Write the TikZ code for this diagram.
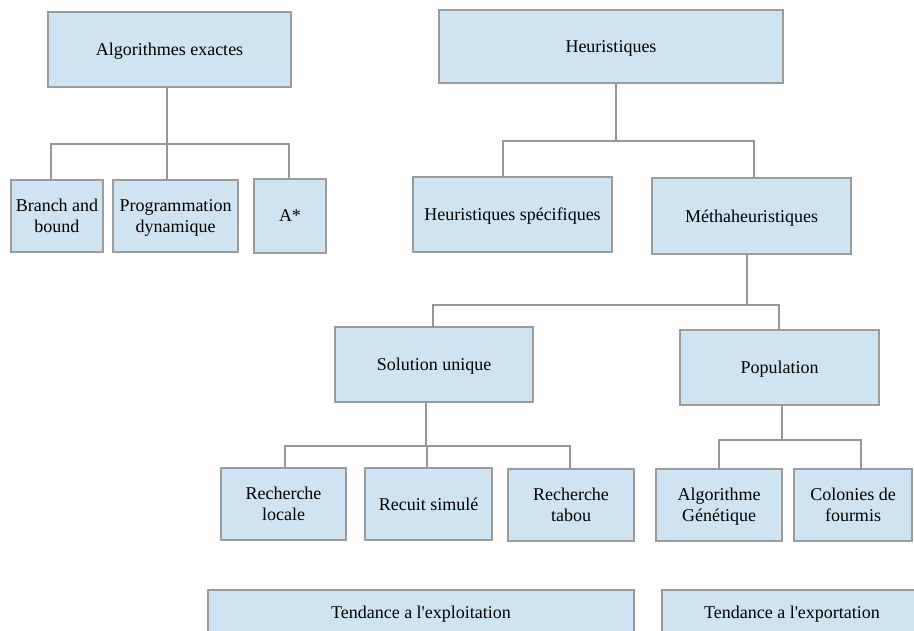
\documentclass[tikz,border=0pt]{standalone}
\usepackage{fontspec}
\setmainfont{Liberation Serif}
\newfontfamily\nomapserif{Liberation Serif}
\definecolor{boxfill}{RGB}{207,228,242}
\definecolor{boxline}{RGB}{155,155,155}
\definecolor{connline}{RGB}{150,150,150}
\begin{document}
\begin{tikzpicture}[x=1pt,y=-1pt,
  box/.style={draw=boxline, fill=boxfill, line width=1.4pt, inner sep=0pt,
    align=center, font=\fontsize{18}{21}\selectfont, text=black, text depth=0pt},
  conn/.style={draw=connline, line width=1.4pt}]
\useasboundingbox (0,0) rectangle (914,630);
\clip (0,0) rectangle (914,630);
% boxes
\node[box, minimum width=243pt, minimum height=75pt] (alg) at (169.5,49.5) {Algorithmes exactes};
\node[box, minimum width=344pt, minimum height=73pt] (heur) at (611,46.5) {Heuristiques};
\node[box, minimum width=92pt, minimum height=72pt] (bb) at (57,216) {Branch and\\bound};
\node[box, minimum width=125pt, minimum height=72pt] (prog) at (175.5,216) {Programmation\\dynamique};
\node[box, minimum width=72pt, minimum height=74pt] (astar) at (290,216) {A*};
\node[box, minimum width=199pt, minimum height=75pt] (hs) at (512.5,214.5) {Heuristiques spécifiques};
\node[box, minimum width=199pt, minimum height=76pt] (meth) at (751.5,216) {Méthaheuristiques};
\node[box, minimum width=198pt, minimum height=75pt] (su) at (434,364.5) {Solution unique};
\node[box, minimum width=199pt, minimum height=75pt] (pop) at (779.5,367.5) {Population};
\node[box, minimum width=125pt, minimum height=72pt] (rl) at (283.5,504) {Recherche\\locale};
\node[box, minimum width=127pt, minimum height=72pt] (rs) at (428.5,504) {Recuit simulé};
\node[box, minimum width=126pt, minimum height=72pt] (rt) at (571,505) {Recherche\\tabou};
\node[box, minimum width=126pt, minimum height=72pt] (ag) at (719,505) {Algorithme\\Génétique};
\node[box, minimum width=118pt, minimum height=72pt] (cf) at (853,505) {Colonies de\\fourmis};
\node[box, minimum width=426pt, minimum height=44pt] (te1) at (421,612) {{\nomapserif Tendance a l'exploitation}};
\node[box, minimum width=260pt, minimum height=44pt] (te2) at (792,612) {{\nomapserif Tendance a l'exportation}};
% junctions
\coordinate (j1) at (167,144);
\coordinate (j2) at (616,141);
\coordinate (j3) at (747,305);
\coordinate (j4) at (426,446);
\coordinate (j5) at (782,440);
% connectors
\draw[conn] ([xshift=-2.5pt]alg.south) -- (j1);
\draw[conn] (j1) -| ([xshift=-6pt]bb.north);
\draw[conn] (j1) -| ([xshift=-8.5pt]prog.north);
\draw[conn] (j1) -| ([xshift=-1pt]astar.north);
\draw[conn] ([xshift=5pt]heur.south) -- (j2);
\draw[conn] (j2) -| ([xshift=-9.5pt]hs.north);
\draw[conn] (j2) -| ([xshift=2.5pt]meth.north);
\draw[conn] ([xshift=-4.5pt]meth.south) -- (j3);
\draw[conn] (j3) -| ([xshift=-1pt]su.north);
\draw[conn] (j3) -| ([xshift=-0.5pt]pop.north);
\draw[conn] ([xshift=-8pt]su.south) -- (j4);
\draw[conn] (j4) -| ([xshift=1.5pt]rl.north);
\draw[conn] (j4) -| ([xshift=-1.5pt]rs.north);
\draw[conn] (j4) -| ([xshift=-1pt]rt.north);
\draw[conn] ([xshift=2.5pt]pop.south) -- (j5);
\draw[conn] (j5) -| (ag.north);
\draw[conn] (j5) -| ([xshift=8pt]cf.north);
\end{tikzpicture}
\end{document}
